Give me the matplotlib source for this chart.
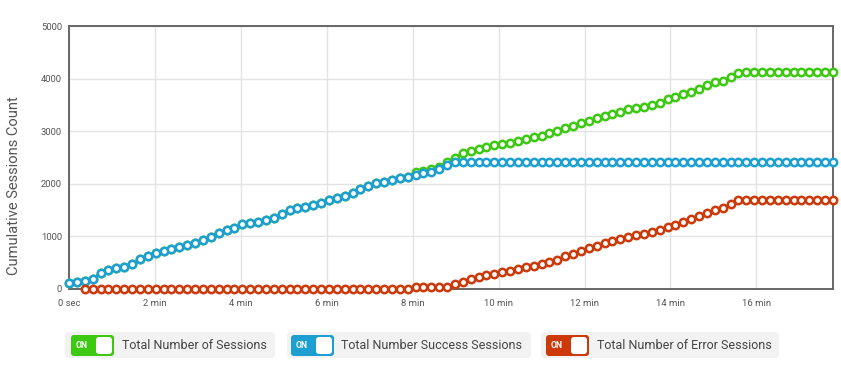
import numpy as np
import matplotlib
matplotlib.use("Agg")
import matplotlib.pyplot as plt
from matplotlib.patches import FancyBboxPatch

plt.rcParams['font.family'] = ['Roboto', 'DejaVu Sans']

# ---- data (one point every 11 seconds) ----
step_seconds = 11
success_sessions = [120, 140, 160, 190, 310, 360, 395, 425, 475, 565, 630, 680, 720, 755, 795, 835,
                    880, 935, 995, 1070, 1115, 1155, 1230, 1260, 1280, 1312, 1345, 1425, 1500, 1540,
                    1565, 1597, 1640, 1685, 1736, 1768, 1819, 1900, 1958, 2009, 2040, 2072, 2104,
                    2135, 2167, 2199, 2230, 2281, 2357] + [2420] * 49
total_sessions = [120, 140, 160, 190, 310, 360, 395, 425, 475, 565, 630, 680, 720, 755, 795, 835,
                  880, 935, 995, 1070, 1115, 1155, 1230, 1260, 1280, 1312, 1345, 1425, 1500, 1540,
                  1565, 1597, 1640, 1685, 1736, 1768, 1819, 1900, 1958, 2009, 2040, 2072, 2104,
                  2135, 2230, 2250, 2275, 2325, 2420, 2500, 2591, 2629, 2656, 2694, 2732, 2757,
                  2781, 2814, 2846, 2884, 2909, 2960, 3010, 3055, 3099, 3150, 3200, 3245, 3289,
                  3327, 3371, 3416, 3447, 3466, 3498, 3542, 3606, 3644, 3700, 3750, 3810, 3870,
                  3929, 3960, 4036, 4112] + [4120] * 12
error_sessions = [np.nan, np.nan] + [0] * 42 + [30, 35, 40, 40, 45, 89, 139, 184, 222, 260, 291,
                  317, 348, 380, 412, 443, 475, 513, 551, 627, 659, 730, 780, 825, 869, 907, 951,
                  996, 1027, 1046, 1078, 1122, 1186, 1224, 1280, 1330, 1390, 1450, 1509, 1540,
                  1616, 1692] + [1700] * 12
series_names = ["Total Number of Sessions", "Total Number Success Sessions", "Total Number of Error Sessions"]
series_colors = ["#3dc812", "#1d9fd2", "#cc3a0a"]
x_tick_minutes = [0, 2, 4, 6, 8, 10, 12, 14, 16]
x_tick_labels = ["0 sec", "2 min", "4 min", "6 min", "8 min", "10 min", "12 min", "14 min", "16 min"]
y_ticks = [0, 1000, 2000, 3000, 4000, 5000]

n = len(total_sessions)
t_min = np.arange(n) * step_seconds / 60.0

W, H = 841, 370
fig = plt.figure(figsize=(W / 100, H / 100), dpi=100)
ax = fig.add_axes([69 / W, 1 - 289 / H, (833 - 69) / W, (289 - 26) / H])

for vals, col in zip([total_sessions, success_sessions, error_sessions], series_colors):
    ax.plot(t_min, vals, color=col, lw=1.6, marker='o', ms=5.3, mfc='white', mec=col,
            mew=1.8, clip_on=False, zorder=3)

ax.set_xlim(0, t_min[-1])
ax.set_ylim(0, 5000)
ax.set_xticks(x_tick_minutes)
ax.set_xticklabels(x_tick_labels)
ax.set_yticks(y_ticks)
ax.set_yticklabels([str(v) for v in y_ticks])
ax.tick_params(length=0, labelsize=6.8, colors='#555555')
ax.tick_params(axis='x', pad=7)
ax.tick_params(axis='y', pad=5)
ax.grid(True, color='#e3e3e3', lw=1.0, zorder=0)
for s in ax.spines.values():
    s.set_color('#666666')
    s.set_linewidth(1.4)
ax.set_ylabel("Cumulative Sessions Count", fontsize=10.6, color='#555555', va='center')
ax.yaxis.set_label_coords(-0.072, 0.395)

# ---- legend toggles ----
ov = fig.add_axes([0, 0, 1, 1])
ov.set_xlim(0, W)
ov.set_ylim(H, 0)
ov.axis('off')
boxes = [(65, 275, 71, 122), (287, 531, 291, 341), (541, 779, 546, 597)]
for (bx0, bx1, tx, lx), name, col in zip(boxes, series_names, series_colors):
    ov.add_patch(FancyBboxPatch((bx0, 332), bx1 - bx0, 26, boxstyle="round,pad=0,rounding_size=4",
                                fc='#f2f2f2', ec='none'))
    ov.add_patch(FancyBboxPatch((tx, 335), 43, 21, boxstyle="round,pad=0,rounding_size=3",
                                fc=col, ec='none'))
    ov.add_patch(FancyBboxPatch((tx + 25, 337), 16, 17, boxstyle="round,pad=0,rounding_size=3",
                                fc='white', ec='none'))
    ov.text(tx + 5, 345.5, "ON", color='white', fontsize=6.3, fontweight='bold', va='center', ha='left')
    ov.text(lx, 345.5, name, color='#444444', fontsize=9.0, va='center', ha='left')

fig.savefig("out.png", dpi=100, facecolor='white')
